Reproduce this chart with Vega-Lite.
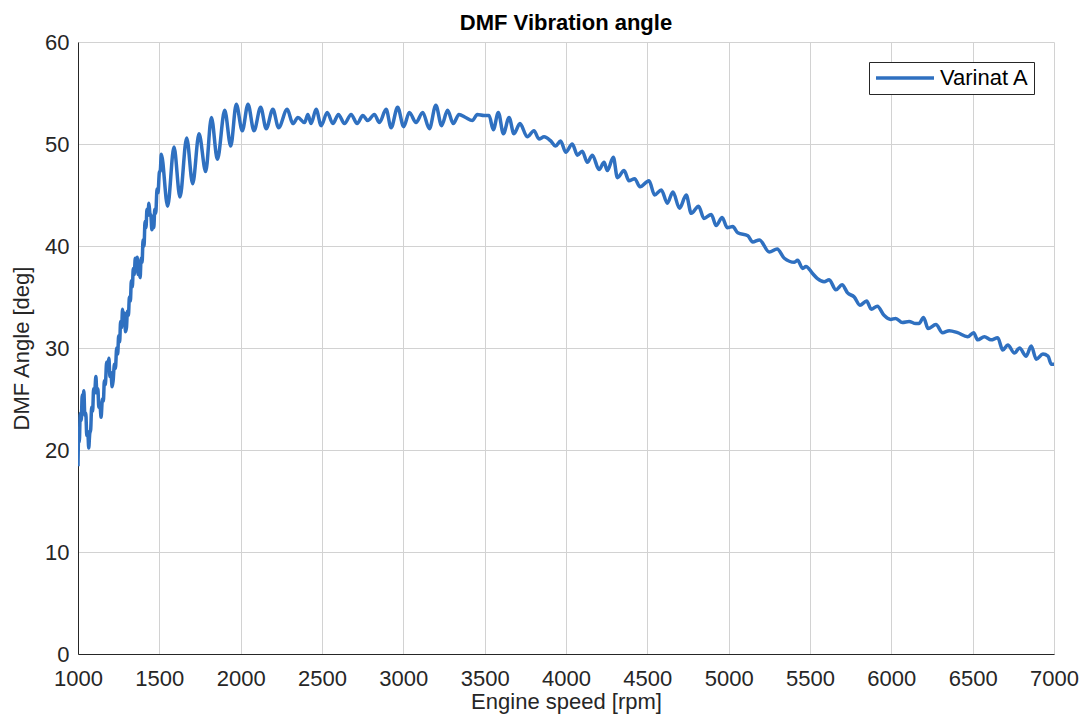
{
  "$schema": "https://vega.github.io/schema/vega-lite/v6.json",
  "width": 976,
  "height": 612,
  "autosize": {"type": "none"},
  "padding": {"left": 78, "top": 42, "right": 28, "bottom": 61},
  "background": "white",
  "title": {
    "text": "DMF Vibration angle",
    "font": "Liberation Sans",
    "fontSize": 22,
    "fontWeight": "bold",
    "color": "#000000",
    "offset": -4
  },
  "config": {
    "view": {"stroke": null},
    "font": "Liberation Sans",
    "axis": {
      "labelFont": "Liberation Sans",
      "titleFont": "Liberation Sans",
      "labelFontSize": 22,
      "titleFontSize": 22,
      "titleFontWeight": "normal",
      "labelColor": "#262626",
      "titleColor": "#262626",
      "domainColor": "#262626",
      "domainWidth": 1,
      "gridColor": "#d2d2d2",
      "gridWidth": 1,
      "ticks": false
    }
  },
  "data": {
    "values": [
      {"rpm": 1000, "angle": 18.4, "series": "Varinat A"},
      {"rpm": 1004, "angle": 21.5, "series": "Varinat A"},
      {"rpm": 1008, "angle": 20.8, "series": "Varinat A"},
      {"rpm": 1014, "angle": 23.6, "series": "Varinat A"},
      {"rpm": 1020, "angle": 22.9, "series": "Varinat A"},
      {"rpm": 1026, "angle": 25.4, "series": "Varinat A"},
      {"rpm": 1031, "angle": 24.6, "series": "Varinat A"},
      {"rpm": 1036, "angle": 25.8, "series": "Varinat A"},
      {"rpm": 1042, "angle": 23.4, "series": "Varinat A"},
      {"rpm": 1048, "angle": 23.6, "series": "Varinat A"},
      {"rpm": 1054, "angle": 21.4, "series": "Varinat A"},
      {"rpm": 1060, "angle": 21.8, "series": "Varinat A"},
      {"rpm": 1066, "angle": 20.2, "series": "Varinat A"},
      {"rpm": 1072, "angle": 21.6, "series": "Varinat A"},
      {"rpm": 1078, "angle": 22.0, "series": "Varinat A"},
      {"rpm": 1084, "angle": 24.2, "series": "Varinat A"},
      {"rpm": 1090, "angle": 23.8, "series": "Varinat A"},
      {"rpm": 1096, "angle": 26.0, "series": "Varinat A"},
      {"rpm": 1102, "angle": 25.6, "series": "Varinat A"},
      {"rpm": 1110, "angle": 27.2, "series": "Varinat A"},
      {"rpm": 1116, "angle": 25.6, "series": "Varinat A"},
      {"rpm": 1122, "angle": 26.0, "series": "Varinat A"},
      {"rpm": 1128, "angle": 24.2, "series": "Varinat A"},
      {"rpm": 1134, "angle": 24.6, "series": "Varinat A"},
      {"rpm": 1142, "angle": 23.2, "series": "Varinat A"},
      {"rpm": 1150, "angle": 25.0, "series": "Varinat A"},
      {"rpm": 1156, "angle": 24.8, "series": "Varinat A"},
      {"rpm": 1162, "angle": 26.8, "series": "Varinat A"},
      {"rpm": 1168, "angle": 26.4, "series": "Varinat A"},
      {"rpm": 1176, "angle": 28.6, "series": "Varinat A"},
      {"rpm": 1183, "angle": 28.2, "series": "Varinat A"},
      {"rpm": 1190, "angle": 29.0, "series": "Varinat A"},
      {"rpm": 1196, "angle": 27.2, "series": "Varinat A"},
      {"rpm": 1202, "angle": 27.6, "series": "Varinat A"},
      {"rpm": 1210, "angle": 26.2, "series": "Varinat A"},
      {"rpm": 1216, "angle": 26.8, "series": "Varinat A"},
      {"rpm": 1224, "angle": 28.4, "series": "Varinat A"},
      {"rpm": 1230, "angle": 28.0, "series": "Varinat A"},
      {"rpm": 1238, "angle": 30.0, "series": "Varinat A"},
      {"rpm": 1244, "angle": 29.4, "series": "Varinat A"},
      {"rpm": 1250, "angle": 31.2, "series": "Varinat A"},
      {"rpm": 1256, "angle": 30.6, "series": "Varinat A"},
      {"rpm": 1262, "angle": 32.6, "series": "Varinat A"},
      {"rpm": 1268, "angle": 32.0, "series": "Varinat A"},
      {"rpm": 1274, "angle": 33.8, "series": "Varinat A"},
      {"rpm": 1280, "angle": 32.8, "series": "Varinat A"},
      {"rpm": 1286, "angle": 33.4, "series": "Varinat A"},
      {"rpm": 1292, "angle": 31.6, "series": "Varinat A"},
      {"rpm": 1298, "angle": 32.0, "series": "Varinat A"},
      {"rpm": 1304, "angle": 33.6, "series": "Varinat A"},
      {"rpm": 1310, "angle": 33.2, "series": "Varinat A"},
      {"rpm": 1316, "angle": 35.0, "series": "Varinat A"},
      {"rpm": 1322, "angle": 34.6, "series": "Varinat A"},
      {"rpm": 1328, "angle": 36.6, "series": "Varinat A"},
      {"rpm": 1334, "angle": 36.0, "series": "Varinat A"},
      {"rpm": 1340, "angle": 37.8, "series": "Varinat A"},
      {"rpm": 1346, "angle": 37.2, "series": "Varinat A"},
      {"rpm": 1352, "angle": 38.8, "series": "Varinat A"},
      {"rpm": 1358, "angle": 38.2, "series": "Varinat A"},
      {"rpm": 1364, "angle": 38.9, "series": "Varinat A"},
      {"rpm": 1370, "angle": 37.2, "series": "Varinat A"},
      {"rpm": 1376, "angle": 37.6, "series": "Varinat A"},
      {"rpm": 1382, "angle": 36.9, "series": "Varinat A"},
      {"rpm": 1388, "angle": 38.8, "series": "Varinat A"},
      {"rpm": 1394, "angle": 38.4, "series": "Varinat A"},
      {"rpm": 1400, "angle": 40.6, "series": "Varinat A"},
      {"rpm": 1406, "angle": 40.0, "series": "Varinat A"},
      {"rpm": 1412, "angle": 42.4, "series": "Varinat A"},
      {"rpm": 1418, "angle": 41.8, "series": "Varinat A"},
      {"rpm": 1424, "angle": 43.6, "series": "Varinat A"},
      {"rpm": 1430, "angle": 43.0, "series": "Varinat A"},
      {"rpm": 1436, "angle": 44.2, "series": "Varinat A"},
      {"rpm": 1442, "angle": 43.2, "series": "Varinat A"},
      {"rpm": 1448, "angle": 43.0, "series": "Varinat A"},
      {"rpm": 1454, "angle": 41.6, "series": "Varinat A"},
      {"rpm": 1460, "angle": 42.0, "series": "Varinat A"},
      {"rpm": 1466, "angle": 41.8, "series": "Varinat A"},
      {"rpm": 1472, "angle": 43.6, "series": "Varinat A"},
      {"rpm": 1478, "angle": 43.2, "series": "Varinat A"},
      {"rpm": 1486, "angle": 45.6, "series": "Varinat A"},
      {"rpm": 1492, "angle": 45.2, "series": "Varinat A"},
      {"rpm": 1500, "angle": 47.2, "series": "Varinat A"},
      {"rpm": 1506, "angle": 47.4, "series": "Varinat A"},
      {"rpm": 1512, "angle": 49.0, "series": "Varinat A"},
      {"rpm": 1551, "angle": 43.9, "series": "Varinat A"},
      {"rpm": 1590, "angle": 49.7, "series": "Varinat A"},
      {"rpm": 1627, "angle": 44.8, "series": "Varinat A"},
      {"rpm": 1668, "angle": 50.6, "series": "Varinat A"},
      {"rpm": 1705, "angle": 46.1, "series": "Varinat A"},
      {"rpm": 1744, "angle": 51.0, "series": "Varinat A"},
      {"rpm": 1785, "angle": 47.3, "series": "Varinat A"},
      {"rpm": 1820, "angle": 52.6, "series": "Varinat A"},
      {"rpm": 1857, "angle": 48.5, "series": "Varinat A"},
      {"rpm": 1902, "angle": 53.3, "series": "Varinat A"},
      {"rpm": 1939, "angle": 49.8, "series": "Varinat A"},
      {"rpm": 1973, "angle": 53.9, "series": "Varinat A"},
      {"rpm": 2010, "angle": 51.3, "series": "Varinat A"},
      {"rpm": 2045, "angle": 53.9, "series": "Varinat A"},
      {"rpm": 2082, "angle": 51.3, "series": "Varinat A"},
      {"rpm": 2123, "angle": 53.6, "series": "Varinat A"},
      {"rpm": 2157, "angle": 51.5, "series": "Varinat A"},
      {"rpm": 2198, "angle": 53.4, "series": "Varinat A"},
      {"rpm": 2233, "angle": 51.6, "series": "Varinat A"},
      {"rpm": 2286, "angle": 53.4, "series": "Varinat A"},
      {"rpm": 2321, "angle": 52.0, "series": "Varinat A"},
      {"rpm": 2352, "angle": 52.6, "series": "Varinat A"},
      {"rpm": 2393, "angle": 52.1, "series": "Varinat A"},
      {"rpm": 2413, "angle": 52.9, "series": "Varinat A"},
      {"rpm": 2433, "angle": 52.0, "series": "Varinat A"},
      {"rpm": 2464, "angle": 53.4, "series": "Varinat A"},
      {"rpm": 2495, "angle": 51.8, "series": "Varinat A"},
      {"rpm": 2532, "angle": 53.1, "series": "Varinat A"},
      {"rpm": 2567, "angle": 52.0, "series": "Varinat A"},
      {"rpm": 2601, "angle": 52.9, "series": "Varinat A"},
      {"rpm": 2638, "angle": 52.0, "series": "Varinat A"},
      {"rpm": 2679, "angle": 52.9, "series": "Varinat A"},
      {"rpm": 2716, "angle": 52.0, "series": "Varinat A"},
      {"rpm": 2751, "angle": 52.8, "series": "Varinat A"},
      {"rpm": 2781, "angle": 52.3, "series": "Varinat A"},
      {"rpm": 2822, "angle": 52.9, "series": "Varinat A"},
      {"rpm": 2853, "angle": 52.1, "series": "Varinat A"},
      {"rpm": 2894, "angle": 53.4, "series": "Varinat A"},
      {"rpm": 2925, "angle": 51.6, "series": "Varinat A"},
      {"rpm": 2965, "angle": 53.6, "series": "Varinat A"},
      {"rpm": 3002, "angle": 51.7, "series": "Varinat A"},
      {"rpm": 3037, "angle": 53.1, "series": "Varinat A"},
      {"rpm": 3078, "angle": 52.1, "series": "Varinat A"},
      {"rpm": 3119, "angle": 53.1, "series": "Varinat A"},
      {"rpm": 3160, "angle": 51.5, "series": "Varinat A"},
      {"rpm": 3200, "angle": 53.8, "series": "Varinat A"},
      {"rpm": 3235, "angle": 51.8, "series": "Varinat A"},
      {"rpm": 3272, "angle": 53.3, "series": "Varinat A"},
      {"rpm": 3307, "angle": 52.0, "series": "Varinat A"},
      {"rpm": 3342, "angle": 52.9, "series": "Varinat A"},
      {"rpm": 3383, "angle": 52.6, "series": "Varinat A"},
      {"rpm": 3424, "angle": 52.3, "series": "Varinat A"},
      {"rpm": 3455, "angle": 52.9, "series": "Varinat A"},
      {"rpm": 3496, "angle": 52.8, "series": "Varinat A"},
      {"rpm": 3527, "angle": 52.8, "series": "Varinat A"},
      {"rpm": 3553, "angle": 51.4, "series": "Varinat A"},
      {"rpm": 3584, "angle": 53.1, "series": "Varinat A"},
      {"rpm": 3615, "angle": 51.0, "series": "Varinat A"},
      {"rpm": 3650, "angle": 52.6, "series": "Varinat A"},
      {"rpm": 3680, "angle": 51.0, "series": "Varinat A"},
      {"rpm": 3717, "angle": 52.0, "series": "Varinat A"},
      {"rpm": 3762, "angle": 50.7, "series": "Varinat A"},
      {"rpm": 3803, "angle": 51.3, "series": "Varinat A"},
      {"rpm": 3834, "angle": 50.5, "series": "Varinat A"},
      {"rpm": 3865, "angle": 50.7, "series": "Varinat A"},
      {"rpm": 3906, "angle": 50.3, "series": "Varinat A"},
      {"rpm": 3936, "angle": 49.8, "series": "Varinat A"},
      {"rpm": 3967, "angle": 50.3, "series": "Varinat A"},
      {"rpm": 3998, "angle": 49.2, "series": "Varinat A"},
      {"rpm": 4039, "angle": 50.0, "series": "Varinat A"},
      {"rpm": 4070, "angle": 48.9, "series": "Varinat A"},
      {"rpm": 4100, "angle": 49.3, "series": "Varinat A"},
      {"rpm": 4131, "angle": 48.2, "series": "Varinat A"},
      {"rpm": 4162, "angle": 48.9, "series": "Varinat A"},
      {"rpm": 4203, "angle": 47.5, "series": "Varinat A"},
      {"rpm": 4234, "angle": 48.2, "series": "Varinat A"},
      {"rpm": 4254, "angle": 47.4, "series": "Varinat A"},
      {"rpm": 4291, "angle": 48.7, "series": "Varinat A"},
      {"rpm": 4316, "angle": 46.7, "series": "Varinat A"},
      {"rpm": 4357, "angle": 47.4, "series": "Varinat A"},
      {"rpm": 4387, "angle": 46.4, "series": "Varinat A"},
      {"rpm": 4422, "angle": 46.6, "series": "Varinat A"},
      {"rpm": 4455, "angle": 45.8, "series": "Varinat A"},
      {"rpm": 4510, "angle": 46.4, "series": "Varinat A"},
      {"rpm": 4545, "angle": 45.0, "series": "Varinat A"},
      {"rpm": 4586, "angle": 45.5, "series": "Varinat A"},
      {"rpm": 4623, "angle": 44.2, "series": "Varinat A"},
      {"rpm": 4657, "angle": 45.3, "series": "Varinat A"},
      {"rpm": 4698, "angle": 43.7, "series": "Varinat A"},
      {"rpm": 4739, "angle": 45.0, "series": "Varinat A"},
      {"rpm": 4770, "angle": 43.2, "series": "Varinat A"},
      {"rpm": 4815, "angle": 43.9, "series": "Varinat A"},
      {"rpm": 4848, "angle": 42.7, "series": "Varinat A"},
      {"rpm": 4893, "angle": 43.1, "series": "Varinat A"},
      {"rpm": 4923, "angle": 42.0, "series": "Varinat A"},
      {"rpm": 4960, "angle": 42.8, "series": "Varinat A"},
      {"rpm": 4991, "angle": 41.8, "series": "Varinat A"},
      {"rpm": 5025, "angle": 41.9, "series": "Varinat A"},
      {"rpm": 5056, "angle": 41.3, "series": "Varinat A"},
      {"rpm": 5118, "angle": 41.0, "series": "Varinat A"},
      {"rpm": 5148, "angle": 40.4, "series": "Varinat A"},
      {"rpm": 5189, "angle": 40.6, "series": "Varinat A"},
      {"rpm": 5250, "angle": 39.4, "series": "Varinat A"},
      {"rpm": 5298, "angle": 39.7, "series": "Varinat A"},
      {"rpm": 5342, "angle": 38.8, "series": "Varinat A"},
      {"rpm": 5404, "angle": 38.4, "series": "Varinat A"},
      {"rpm": 5424, "angle": 38.6, "series": "Varinat A"},
      {"rpm": 5455, "angle": 37.8, "series": "Varinat A"},
      {"rpm": 5475, "angle": 38.0, "series": "Varinat A"},
      {"rpm": 5516, "angle": 37.3, "series": "Varinat A"},
      {"rpm": 5546, "angle": 36.8, "series": "Varinat A"},
      {"rpm": 5587, "angle": 36.5, "series": "Varinat A"},
      {"rpm": 5618, "angle": 36.7, "series": "Varinat A"},
      {"rpm": 5659, "angle": 35.7, "series": "Varinat A"},
      {"rpm": 5697, "angle": 36.2, "series": "Varinat A"},
      {"rpm": 5731, "angle": 35.4, "series": "Varinat A"},
      {"rpm": 5772, "angle": 35.0, "series": "Varinat A"},
      {"rpm": 5807, "angle": 34.2, "series": "Varinat A"},
      {"rpm": 5848, "angle": 34.6, "series": "Varinat A"},
      {"rpm": 5877, "angle": 33.8, "series": "Varinat A"},
      {"rpm": 5914, "angle": 34.1, "series": "Varinat A"},
      {"rpm": 5955, "angle": 33.2, "series": "Varinat A"},
      {"rpm": 5996, "angle": 32.8, "series": "Varinat A"},
      {"rpm": 6027, "angle": 32.9, "series": "Varinat A"},
      {"rpm": 6068, "angle": 32.5, "series": "Varinat A"},
      {"rpm": 6109, "angle": 32.6, "series": "Varinat A"},
      {"rpm": 6150, "angle": 32.4, "series": "Varinat A"},
      {"rpm": 6170, "angle": 32.4, "series": "Varinat A"},
      {"rpm": 6198, "angle": 33.0, "series": "Varinat A"},
      {"rpm": 6226, "angle": 31.9, "series": "Varinat A"},
      {"rpm": 6274, "angle": 32.3, "series": "Varinat A"},
      {"rpm": 6315, "angle": 31.5, "series": "Varinat A"},
      {"rpm": 6356, "angle": 31.7, "series": "Varinat A"},
      {"rpm": 6407, "angle": 31.5, "series": "Varinat A"},
      {"rpm": 6469, "angle": 31.1, "series": "Varinat A"},
      {"rpm": 6506, "angle": 31.5, "series": "Varinat A"},
      {"rpm": 6531, "angle": 30.8, "series": "Varinat A"},
      {"rpm": 6572, "angle": 31.1, "series": "Varinat A"},
      {"rpm": 6613, "angle": 30.8, "series": "Varinat A"},
      {"rpm": 6654, "angle": 31.0, "series": "Varinat A"},
      {"rpm": 6685, "angle": 29.8, "series": "Varinat A"},
      {"rpm": 6716, "angle": 30.3, "series": "Varinat A"},
      {"rpm": 6757, "angle": 29.5, "series": "Varinat A"},
      {"rpm": 6788, "angle": 30.0, "series": "Varinat A"},
      {"rpm": 6829, "angle": 29.2, "series": "Varinat A"},
      {"rpm": 6860, "angle": 30.2, "series": "Varinat A"},
      {"rpm": 6891, "angle": 28.9, "series": "Varinat A"},
      {"rpm": 6932, "angle": 29.4, "series": "Varinat A"},
      {"rpm": 6963, "angle": 29.2, "series": "Varinat A"},
      {"rpm": 6984, "angle": 28.4, "series": "Varinat A"},
      {"rpm": 7000, "angle": 28.4, "series": "Varinat A"}
    ]
  },
  "mark": {"type": "line", "strokeWidth": 3.5, "interpolate": "monotone", "clip": true},
  "encoding": {
    "x": {
      "field": "rpm",
      "type": "quantitative",
      "scale": {"domain": [1000, 7000], "nice": false, "zero": false},
      "axis": {
        "title": "Engine speed [rpm]",
        "values": [1000, 1500, 2000, 2500, 3000, 3500, 4000, 4500, 5000, 5500, 6000, 6500, 7000],
        "format": "d",
        "labelPadding": 14,
        "titlePadding": 2,
        "labelFlush": false
      }
    },
    "y": {
      "field": "angle",
      "type": "quantitative",
      "scale": {"domain": [0, 60], "nice": false},
      "axis": {
        "title": "DMF Angle [deg]",
        "values": [0, 10, 20, 30, 40, 50, 60],
        "labelPadding": 9,
        "titlePadding": 11,
        "labelFlush": false
      }
    },
    "color": {
      "field": "series",
      "type": "nominal",
      "scale": {"range": ["#2f70c0"]},
      "legend": {
        "title": null,
        "orient": "top-right",
        "offset": 20,
        "symbolType": "M-1,0L1,0",
        "symbolSize": 3364,
        "symbolStrokeWidth": 3.5,
        "clipHeight": 22,
        "labelFontSize": 22,
        "labelFont": "Liberation Sans",
        "labelColor": "#000000",
        "labelOffset": 4,
        "strokeColor": "#262626",
        "fillColor": "white",
        "padding": 5
      }
    }
  }
}
